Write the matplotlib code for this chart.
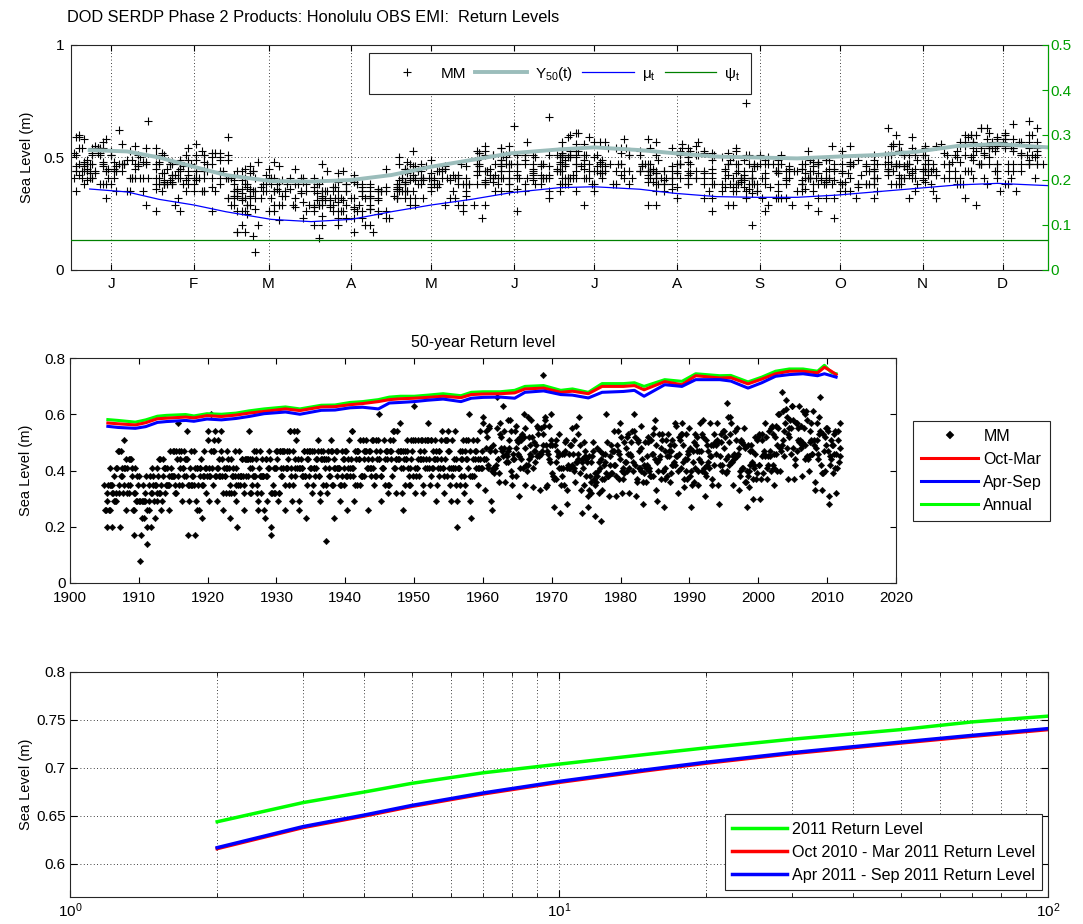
import numpy as np
import matplotlib
matplotlib.use("Agg")
import matplotlib.pyplot as plt
from matplotlib.lines import Line2D

plt.rcParams['font.family'] = ['Liberation Sans', 'DejaVu Sans']
plt.rcParams['mathtext.fontset'] = 'custom'
plt.rcParams['mathtext.rm'] = 'Liberation Sans'
plt.rcParams['mathtext.it'] = 'Liberation Sans'
plt.rcParams['mathtext.default'] = 'regular'

# Monthly maxima (cm), Jan..Dec per year, with day-of-month codes (see `code` below)
first_year = 1905
mm_1900s = [
    ("35 26 26 20 32 29 35 26 35 26 41 35", "a3k7p1e9s2hm"),
    ("32 35 20 32 29 38 29 41 32 29 41 47", "4jc8r0g5nb2t"),
    ("47 35 32 20 38 47 38 41 32 41 35 51", "p6d1ka9f3sh0"),
    ("41 44 26 32 41 35 44 32 44 35 44 41", "2mb7e4qj8c5r"),
    ("38 26 26 17 32 32 41 29 29 38 35 38", "h0s5a9d2lf6k"),
]
mm_1910s = [
    ("29 29 08 17 29 23 35 29 29 23 32 29", "9e3o8bj1r4mc"),
    ("38 26 20 14 29 26 35 38 20 32 32 41", "c7gbu5a8hn3e"),
    ("35 38 29 23 35 35 41 32 29 38 44 32", "k1p6d3s9b7j0"),
    ("44 32 35 26 29 44 38 41 41 32 41 35", "5fa0m7c4q2gi"),
    ("35 41 35 26 35 38 47 38 41 38 38 47", "r3i8b1l6e9t4"),
    ("47 38 32 35 32 47 44 57 38 35 47 44", "8c5q2h9o0kd6"),
    ("41 47 29 35 41 41 38 47 44 38 44 54", "e2m7j4a1s8g3"),
    ("44 35 17 35 29 41 47 35 35 38 38 47", "1ld6f9p3i5b8"),
    ("35 41 17 29 26 41 41 35 26 41 41 38", "n4b0r7c2k9e5"),
    ("44 35 23 35 38 38 47 41 32 41 38 51", "6h9e3o1g8a4q"),
]
mm_1920s = [
    ("54 41 38 29 38 47 60 41 47 35 51 47", "b8s1j6d4m0r7"),
    ("54 38 38 29 41 41 51 38 44 38 47 54", "3a7l9q5e2c8h"),
    ("38 44 26 32 41 38 38 41 32 41 47 44", "j5c2g8b7o1k4"),
    ("41 32 35 23 32 44 38 41 38 32 38 47", "o9f4a1i6d3s2"),
    ("35 41 29 20 38 35 47 35 38 38 38 44", "7k0m5e8r4h9b"),
    ("44 38 35 26 32 44 38 44 44 38 44 54", "d2r6c3j0n7a5"),
    ("41 44 32 32 41 35 44 38 38 47 38 47", "s6e1p9b4g2l8"),
    ("44 35 32 26 29 41 38 47 32 38 44 38", "4o8h2d7a5q1f"),
    ("38 38 26 23 38 44 44 38 29 41 41 47", "g1j5s0l3c9e6"),
    ("44 32 17 20 32 35 41 32 41 32 41 47", "a9b3f6q8k4o2"),
]
mm_1930s = [
    ("47 44 29 32 32 47 47 41 38 47 38 47", "m3t7a4e1h6c9"),
    ("41 47 35 26 41 41 41 47 44 35 47 54", "0d4k8r2b9j5g"),
    ("54 41 38 29 35 47 54 41 44 38 51 54", "h7a2c5m9f0p3"),
    ("41 44 29 26 41 41 44 38 41 41 38 47", "5q6e1g4s8d2k"),
    ("47 38 38 23 35 47 44 44 47 38 47 41", "c0l9j3a7o5b1"),
    ("41 47 32 35 41 41 47 38 41 44 44 51", "i4c8n2e6h1r9"),
    ("47 38 38 29 32 47 44 44 35 47 44 44", "2g5b7q0d3m8a"),
    ("41 44 15 35 32 44 47 38 41 38 51 47", "p8f1h5k2a9e4"),
    ("47 35 35 23 41 44 41 47 38 41 47 41", "9b3s6c4j7g0l"),
    ("41 41 29 35 35 47 38 44 44 35 41 47", "e5k0a8o1q6d3"),
]
mm_1940s = [
    ("47 38 26 38 44 41 51 38 41 44 41 54", "l1d7g3b9c5s2"),
    ("54 41 38 29 35 47 44 47 35 47 47 44", "3r2e9i6m0a8h"),
    ("44 51 35 38 38 38 51 44 47 38 47 51", "f6a4l1d8k3c7"),
    ("47 41 41 26 44 47 41 47 41 38 51 44", "b9o3c7h5e2j0"),
    ("41 51 35 38 38 51 47 44 51 44 44 60", "q0e6r2a4g9l5"),
    ("47 38 38 29 41 41 41 51 35 44 47 47", "6j8b5f1s7c3d"),
    ("44 47 32 35 35 51 47 44 47 38 51 54", "k3h1d9n6b0e8"),
    ("54 41 41 32 44 44 54 44 47 44 47 57", "1a5m3c8j2q6g"),
    ("41 47 32 26 41 47 44 47 35 44 44 51", "r7c9g0e5d4k1"),
    ("47 41 38 35 35 41 51 44 47 38 51 63", "d2i6o4b1l8a9"),
]
mm_1950s = [
    ("51 41 32 38 41 41 51 44 38 47 44 51", "8f3a7k9c2s5e"),
    ("44 51 35 32 44 47 41 51 44 41 51 57", "a5n1e3g6h9b4"),
    ("51 41 44 35 38 51 51 41 41 47 44 51", "j0b8s5d2f4m7"),
    ("44 47 29 35 44 41 47 47 38 41 51 44", "4m2c6q8a1g3k"),
    ("54 41 41 32 38 51 44 51 51 38 47 54", "g9d5a1j7o0c6"),
    ("41 47 35 29 41 38 51 41 41 44 41 54", "o3k7h4b2e9r1"),
    ("44 35 29 20 41 41 41 47 35 44 38 47", "c6a0f8l5i3d9"),
    ("44 51 38 32 35 47 51 44 44 41 51 60", "2h4j1e9c7b5q"),
    ("47 38 29 23 38 38 51 44 38 47 44 41", "m8e3b6g0k2a4"),
    ("47 51 41 35 44 41 44 54 41 47 41 57", "e1r9d2o4h6j8"),
]
mm_1960s = [
    ("59 44 44 33 44 54 48 52 42 41 55 56", "b5c7k3a8f1s0"),
    ("48 47 29 26 40 41 49 39 47 41 42 55", "9a2g5m1d7e3l"),
    ("66 44 44 36 39 53 57 48 52 47 45 63", "s4f8c0j6b9h2"),
    ("48 54 36 43 46 45 58 43 47 51 48 58", "h0l3e7q2g5a6"),
    ("54 40 35 38 46 44 44 54 38 48 56 51", "3d6b9a5k8c1p"),
    ("46 50 45 31 41 52 51 44 53 41 52 60", "k7j1i4e0d3o8"),
    ("55 48 35 42 40 42 59 52 44 49 46 58", "p2b5f8c6n9e4"),
    ("45 52 41 34 47 50 47 43 49 45 56 53", "5o9a2h4j1g7c"),
    ("55 45 46 33 46 55 47 53 74 49 56 58", "f3e6m1b833d5"),
    ("59 49 34 35 47 46 56 44 49 43 51 60", "a8c4g9e2k5h0"),
]
mm_1970s = [
    ("49 39 38 27 37 49 43 51 37 47 45 53", "d1q7b3l6a0j9"),
    ("41 46 25 35 41 38 46 41 46 35 47 50", "7g2d8f5c4s3b"),
    ("51 41 33 28 42 46 41 49 41 49 42 55", "j6a0o3e9h1m5"),
    ("46 51 41 40 36 43 56 43 46 44 53 59", "c9k5a7g2q8d4"),
    ("49 39 33 25 43 44 41 50 35 45 47 44", "n2e8j4b6c0f7"),
    ("38 43 27 31 33 45 38 43 32 36 45 50", "4b3h9d1m7a6r"),
    ("47 37 35 24 39 36 48 38 40 32 43 47", "h7s1c5k3e9g2"),
    ("41 44 22 37 33 46 42 37 46 43 39 60", "1f6e0a8j4l5c"),
    ("50 38 38 31 45 42 49 39 47 39 47 54", "q4d2m7g1b3o9"),
    ("42 47 42 31 38 49 54 47 37 46 44 57", "b0i8c3r5f6a1"),
]
mm_1980s = [
    ("52 40 32 37 41 39 50 43 43 48 40 52", "e5a6h1d9k2j7"),
    ("46 53 41 32 46 50 45 54 43 40 54 60", "8l3f4o0c7e5b"),
    ("52 42 31 37 36 51 50 41 47 41 48 56", "g2c9a6j8d1s4"),
    ("40 44 36 28 42 39 50 36 41 45 42 50", "d6o5e2b4h9a3"),
    ("52 40 41 38 38 51 46 53 38 46 55 58", "3h0k8g6m2c1f"),
    ("44 49 33 29 43 40 53 44 45 37 48 53", "k9b4d1e3a7q6"),
    ("51 40 40 27 37 47 41 51 38 45 53 47", "a1m7j5c0i4d8"),
    ("45 49 36 39 47 42 51 42 49 43 42 57", "p5e3b9h6f2k0"),
    ("56 45 45 32 40 52 46 51 41 53 53 57", "6c8g2a1o5b9j"),
    ("43 49 34 37 44 40 53 44 37 47 46 55", "f4r0l7d3c8e2"),
]
mm_1990s = [
    ("48 38 40 27 35 47 43 50 36 41 53 49", "c2a5e4k9g6h1"),
    ("47 52 35 40 47 44 57 43 47 40 53 58", "m7f1q3b8j0d5"),
    ("52 41 39 31 38 51 42 49 47 43 41 57", "0j6c9h2e4a8n"),
    ("45 49 45 35 37 49 53 42 50 49 46 57", "i3d4a6f1l7c9"),
    ("51 50 35 28 45 42 50 53 42 40 54 54", "e8k2m0c5b3g6"),
    ("48 52 39 44 40 64 59 45 50 42 53 59", "5b9h7j4d0o2a"),
    ("57 43 43 35 45 46 44 54 45 51 45 55", "h1e3c8a6q9f4"),
    ("46 48 33 40 38 51 50 41 50 41 49 55", "a6n5g2e7c1k3"),
    ("48 36 36 27 40 38 49 40 34 47 42 49", "r0c7b4l3h5d8"),
    ("43 47 30 37 41 42 52 46 37 39 51 52", "2i9f1d8a6j0e"),
]
mm_2000s = [
    ("53 42 42 30 37 51 45 53 39 47 46 57", "j4a3k6g0e2c7"),
    ("45 52 37 41 45 42 54 45 47 40 55 56", "d8h0c5o9b4m1"),
    ("53 42 46 35 41 52 46 56 40 49 55 60", "7e6q2a3k8g5b"),
    ("60 48 40 47 49 68 61 51 54 45 57 65", "b3c1j9f5d0s6"),
    ("62 59 48 37 53 55 52 58 46 55 63 63", "l9g7e4b1i6a2"),
    ("58 48 37 44 42 57 57 47 51 55 50 63", "4a2d8m6c3h9f"),
    ("51 56 48 38 50 49 61 55 44 49 60 61", "g5k4b0e7n1c3"),
    ("58 45 44 45 40 54 50 57 51 46 46 61", "c0f9h3a2j8e5"),
    ("49 51 36 33 48 51 57 46 44 53 59 66", "o6b1d7k4a5g8"),
    ("54 42 33 39 39 53 47 52 40 49 55 55", "e2m5c1g9f3b0"),
]
mm_2010s = [
    ("54 47 28 31 45 42 51 44 49 39 49 53", "9d8a6e0c7k4h"),
    ("46 54 41 32 46 41 54 51 43 48 45 57", "h4j3f5b2d6a1"),
]

# Seasonal curves (top panel), day of year
curve_day = [7, 21, 33, 46, 58, 75, 90, 105, 120, 135, 150, 165, 183,
             196, 213, 226, 242, 257, 272, 287, 302, 317, 332, 347, 366]
y50_t = [0.533, 0.527, 0.500, 0.459, 0.422, 0.395, 0.393, 0.400, 0.422,
         0.459, 0.489, 0.519, 0.536, 0.545, 0.533, 0.519, 0.504, 0.500,
         0.496, 0.504, 0.511, 0.526, 0.551, 0.560, 0.545]
mu_t = [0.360, 0.347, 0.314, 0.289, 0.259, 0.225, 0.215, 0.225, 0.259,
        0.289, 0.314, 0.344, 0.366, 0.370, 0.359, 0.341, 0.326, 0.323,
        0.323, 0.333, 0.348, 0.363, 0.378, 0.385, 0.375]
psi_t = 0.066
month_ticks = [15, 46, 74, 105, 135, 166, 196, 227, 258, 288, 319, 349]
month_labels = ['J', 'F', 'M', 'A', 'M', 'J', 'J', 'A', 'S', 'O', 'N', 'D']

# 50-year return level through time (middle panel)
rl_year = [1905.5, 1907, 1909.5, 1911, 1912.7, 1914, 1916.8, 1918, 1919.9,
           1922, 1924.1, 1926, 1928.2, 1931.3, 1933.4, 1936.5, 1938.5,
           1940.7, 1942.5, 1944.8, 1946.4, 1948, 1950, 1952, 1954.2, 1956.8,
           1958.3, 1960, 1962.5, 1964.6, 1966.1, 1968.8, 1971.3, 1973,
           1975.3, 1977.3, 1980.4, 1982, 1983.4, 1986.4, 1988.9, 1990.9,
           1994.4, 1996, 1998.5, 2000.5, 2002.5, 2004.5, 2006.5, 2008.6,
           2009.6, 2010.6, 2011.3]
rl_annual = [0.581, 0.578, 0.572, 0.580, 0.593, 0.596, 0.599, 0.594, 0.602,
             0.600, 0.604, 0.612, 0.619, 0.626, 0.619, 0.632, 0.633, 0.642,
             0.645, 0.652, 0.661, 0.664, 0.664, 0.668, 0.673, 0.666, 0.678,
             0.680, 0.680, 0.685, 0.699, 0.702, 0.685, 0.690, 0.678, 0.709,
             0.709, 0.712, 0.699, 0.723, 0.717, 0.744, 0.737, 0.738, 0.715,
             0.732, 0.753, 0.761, 0.761, 0.753, 0.774, 0.749, 0.744]
rl_octmar = [0.569, 0.566, 0.562, 0.570, 0.584, 0.586, 0.590, 0.587, 0.595,
             0.592, 0.597, 0.604, 0.610, 0.619, 0.613, 0.626, 0.627, 0.634,
             0.638, 0.645, 0.652, 0.655, 0.657, 0.660, 0.664, 0.659, 0.670,
             0.672, 0.673, 0.676, 0.690, 0.693, 0.678, 0.682, 0.673, 0.699,
             0.699, 0.702, 0.687, 0.716, 0.705, 0.737, 0.729, 0.730, 0.708,
             0.725, 0.744, 0.753, 0.753, 0.747, 0.767, 0.753, 0.741]
rl_aprsep = [0.557, 0.553, 0.550, 0.556, 0.571, 0.574, 0.578, 0.575, 0.583,
             0.580, 0.585, 0.592, 0.602, 0.608, 0.600, 0.614, 0.615, 0.623,
             0.625, 0.619, 0.640, 0.642, 0.645, 0.650, 0.654, 0.645, 0.657,
             0.660, 0.661, 0.657, 0.678, 0.683, 0.670, 0.668, 0.658, 0.678,
             0.681, 0.685, 0.664, 0.705, 0.699, 0.723, 0.723, 0.718, 0.693,
             0.712, 0.735, 0.741, 0.744, 0.737, 0.744, 0.737, 0.732]

# Return level vs return period (bottom panel)
ret_period = [2, 3, 4, 5, 7, 10, 15, 20, 30, 50, 70, 100]
rl2011 = [0.644, 0.664, 0.675, 0.684, 0.695, 0.704, 0.714, 0.721, 0.730, 0.740, 0.748, 0.754]
rl_winter = [0.616, 0.638, 0.650, 0.660, 0.673, 0.685, 0.697, 0.705, 0.715, 0.726, 0.733, 0.740]
rl_summer = [0.617, 0.639, 0.651, 0.661, 0.674, 0.686, 0.698, 0.706, 0.716, 0.727, 0.734, 0.741]

# ---- unpack monthly maxima
# day-of-month code: position in this string = days after the 1st
code = "0ab1cd2ef3gh4ij5kl6mn7op8qr9stu"
month_start = [0, 31, 59, 90, 120, 151, 181, 212, 243, 273, 304, 334]
rows = mm_1900s + mm_1910s + mm_1920s + mm_1930s + mm_1940s + mm_1950s + \
    mm_1960s + mm_1970s + mm_1980s + mm_1990s + mm_2000s + mm_2010s
mm_val, mm_doy, mm_time = [], [], []
for i, (vals, days) in enumerate(rows):
    yr = first_year + i
    v = [int(s) / 100 for s in vals.split()]
    for m, (val, ch) in enumerate(zip(v, days)):
        doy = month_start[m] + code.index(ch) + 1
        mm_val.append(val)
        mm_doy.append(doy)
        mm_time.append(yr + (doy - 0.5) / 365.25)

W, H = 1083, 924
fig = plt.figure(figsize=(W / 100, H / 100), dpi=100)
spine_c = '#262626'
dot = (0, (1, 3))
green_d = '#00a000'
fs = 11

fig.text(67 / W, 1 - 17 / H, 'DOD SERDP Phase 2 Products: Honolulu OBS EMI:  Return Levels',
         fontsize=11.8, va='center', ha='left')

# ---- top panel
ax1 = fig.add_axes([71 / W, 1 - 270 / H, 977 / W, 225 / H])
ax1.plot(mm_doy, mm_val, '+', color='k', ms=5.5, mew=0.8)
ax1.plot(curve_day, y50_t, color='#9bbdbb', lw=2.8)
ax1.plot(curve_day, mu_t, color='#0000ff', lw=0.9)
ax1.set_xlim(0, 366)
ax1.set_ylim(0, 1)
ax1.set_xticks(month_ticks)
ax1.set_xticklabels(month_labels)
ax1.set_yticks([0, 0.5, 1])
ax1.set_yticklabels(['0', '0.5', '1'])
ax1.grid(True, ls=dot, color='k', lw=0.6)
ax1.tick_params(direction='in', top=True, right=False, labelsize=fs, length=4, pad=5)
ax1.set_ylabel('Sea Level (m)', fontsize=10.5)
ax1.yaxis.set_label_coords(-0.038, 0.5)
for s in ax1.spines.values():
    s.set_color(spine_c)

ax2 = ax1.twinx()
ax2.axhline(psi_t, color='#008000', lw=0.9)
ax2.set_ylim(0, 0.5)
ax2.set_yticks([0, 0.1, 0.2, 0.3, 0.4, 0.5])
ax2.set_yticklabels(['0', '0.1', '0.2', '0.3', '0.4', '0.5'])
ax2.tick_params(axis='y', direction='in', colors=green_d, labelcolor=green_d,
                labelsize=fs, length=4, pad=2)
ax2.spines['right'].set_color(green_d)
for k in ['top', 'left', 'bottom']:
    ax2.spines[k].set_visible(False)

h_top = [Line2D([], [], marker='+', ls='none', color='k', ms=5.5, mew=0.8),
         Line2D([], [], color='#9bbdbb', lw=2.8),
         Line2D([], [], color='#0000ff', lw=0.9),
         Line2D([], [], color='#008000', lw=0.9)]
leg = ax2.legend(h_top, ['MM', 'Y$_{50}$(t)', 'μ$_t$', 'ψ$_t$'], loc='upper center',
                 bbox_to_anchor=(0.501, 0.964), ncol=4, fontsize=fs, handlelength=3.4,
                 handletextpad=0.5, columnspacing=0.6, borderpad=0.75, borderaxespad=0,
                 fancybox=False, framealpha=1, edgecolor=spine_c)
leg.get_frame().set_linewidth(0.8)

# ---- middle panel
ax3 = fig.add_axes([70 / W, 1 - 583 / H, 826 / W, 225 / H])
ax3.plot(mm_time, mm_val, 'D', color='k', ms=3.3, mew=0.3, label='MM')
ax3.plot(rl_year, rl_annual, color='#00ff00', lw=2.2, label='Annual', zorder=3)
ax3.plot(rl_year, rl_octmar, color='#ff0000', lw=2.2, label='Oct-Mar', zorder=4)
ax3.plot(rl_year, rl_aprsep, color='#0000ff', lw=2.2, label='Apr-Sep', zorder=5)
ax3.set_xlim(1900, 2020)
ax3.set_ylim(0, 0.8)
ax3.set_xticks(np.arange(1900, 2021, 10))
ax3.set_yticks([0, 0.2, 0.4, 0.6, 0.8])
ax3.set_yticklabels(['0', '0.2', '0.4', '0.6', '0.8'])
ax3.tick_params(direction='in', top=True, right=True, labelsize=fs, length=4, pad=3)
ax3.tick_params(axis='x', pad=6)
ax3.set_title('50-year Return level', fontsize=11.5, pad=8)
ax3.set_ylabel('Sea Level (m)', fontsize=10.5)
ax3.yaxis.set_label_coords(-0.045, 0.5)
for s in ax3.spines.values():
    s.set_color(spine_c)
hm, lm = ax3.get_legend_handles_labels()
order = [0, 2, 3, 1]
leg3 = fig.legend([hm[i] for i in order], [lm[i] for i in order], loc='upper left',
                  bbox_to_anchor=(913 / W, 1 - 421 / H), fontsize=11.5, handlelength=3.6,
                  handletextpad=0.3, labelspacing=0.5, borderpad=0.5, borderaxespad=0,
                  fancybox=False, framealpha=1, edgecolor=spine_c, markerscale=1.3)
leg3.get_frame().set_linewidth(0.8)

# ---- bottom panel
ax4 = fig.add_axes([70 / W, 1 - 897 / H, 978 / W, 225 / H])
ax4.semilogx(ret_period, rl2011, color='#00ff00', lw=2.5, label='2011 Return Level')
ax4.semilogx(ret_period, rl_winter, color='#ff0000', lw=2.5,
             label='Oct 2010 - Mar 2011 Return Level')
ax4.semilogx(ret_period, rl_summer, color='#0000ff', lw=2.5,
             label='Apr 2011 - Sep 2011 Return Level')
ax4.set_xlim(1, 100)
ax4.set_ylim(0.5656, 0.8)
ax4.set_yticks([0.6, 0.65, 0.7, 0.75, 0.8])
ax4.set_yticklabels(['0.6', '0.65', '0.7', '0.75', '0.8'])
ax4.grid(True, which='both', axis='x', ls=dot, color='k', lw=0.6)
ax4.grid(True, which='major', axis='y', ls=dot, color='k', lw=0.6)
ax4.tick_params(which='both', direction='in', top=True, right=True, labelsize=fs)
ax4.tick_params(which='major', length=5, pad=3)
ax4.tick_params(which='minor', length=3)
ax4.tick_params(axis='y', pad=3)
ax4.set_ylabel('Sea Level (m)', fontsize=10.5)
ax4.yaxis.set_label_coords(-0.038, 0.5)
for s in ax4.spines.values():
    s.set_color(spine_c)
leg4 = ax4.legend(loc='lower right', bbox_to_anchor=(1042 / W, 1 - 890 / H),
                  bbox_transform=fig.transFigure, fontsize=11.6, handlelength=3.4,
                  handletextpad=0.3, labelspacing=0.5, borderpad=0.45, borderaxespad=0,
                  fancybox=False, framealpha=1, edgecolor=spine_c)
leg4.get_frame().set_linewidth(0.8)

fig.savefig('out.png', dpi=100)
